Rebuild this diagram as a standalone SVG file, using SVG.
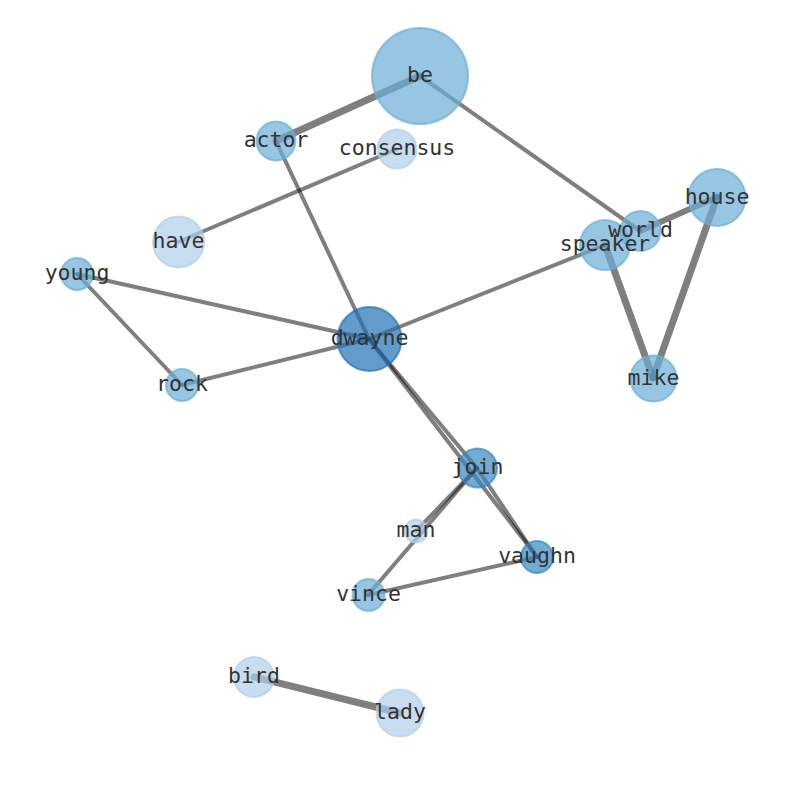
<svg xmlns="http://www.w3.org/2000/svg" width="794" height="790" viewBox="0 0 794 790">
<style>
.e{stroke:#000;stroke-opacity:0.5;stroke-linecap:round;fill:none;stroke-width:4}
.w6{stroke-width:6}
.w7{stroke-width:7}
.n circle{fill-opacity:0.7;stroke-opacity:0.7;stroke-width:2}
.c1 circle{fill:#2171b5;stroke:#2171b5}
.c2 circle{fill:#3787c0;stroke:#3787c0}
.c3 circle{fill:#6baed6;stroke:#6baed6}
.c4 circle{fill:#b0cfe8;stroke:#b0cfe8}
text{font-family:"DejaVu Sans Mono","Liberation Mono",monospace;font-size:21.5px;fill:#333;text-anchor:middle;dominant-baseline:central}
</style>
<rect width="794" height="790" fill="#fff"/>
<g id="edges">
<line class="e w7" x1="420" y1="76" x2="276" y2="141"/>
<line class="e" x1="420" y1="76" x2="640" y2="231"/>
<line class="e" x1="276" y1="141" x2="369" y2="339"/>
<line class="e" x1="397" y1="149" x2="178" y2="242"/>
<line class="e" x1="77" y1="274" x2="369" y2="339"/>
<line class="e" x1="77" y1="274" x2="182" y2="385"/>
<line class="e" x1="182" y1="385" x2="369" y2="339"/>
<line class="e" x1="369" y1="339" x2="605" y2="245"/>
<line class="e" x1="369" y1="339" x2="477" y2="468"/>
<line class="e" x1="369" y1="339" x2="537" y2="557"/>
<line class="e" x1="477" y1="468" x2="537" y2="557"/>
<line class="e" x1="477" y1="468" x2="416" y2="531"/>
<line class="e" x1="477" y1="468" x2="368" y2="595"/>
<line class="e" x1="368" y1="595" x2="537" y2="557"/>
<line class="e w6" x1="640" y1="231" x2="717" y2="197"/>
<line class="e w7" x1="605" y1="245" x2="653" y2="378"/>
<line class="e w7" x1="717" y1="197" x2="653" y2="378"/>
<line class="e w7" x1="254" y1="677" x2="400" y2="713"/>
</g>
<g id="nodes">
<g id="node-be" class="n c3"><circle cx="420" cy="76" r="48"/></g>
<g id="node-actor" class="n c3"><circle cx="276" cy="141" r="19.5"/></g>
<g id="node-consensus" class="n c4"><circle cx="397" cy="149" r="19.5"/></g>
<g id="node-have" class="n c4"><circle cx="178.5" cy="242" r="25.5"/></g>
<g id="node-young" class="n c3"><circle cx="77" cy="274" r="16"/></g>
<g id="node-dwayne" class="n c1"><circle cx="369.5" cy="339" r="32"/></g>
<g id="node-rock" class="n c3"><circle cx="182" cy="385" r="16"/></g>
<g id="node-speaker" class="n c3"><circle cx="605" cy="245" r="25"/></g>
<g id="node-world" class="n c3"><circle cx="640.5" cy="231" r="20"/></g>
<g id="node-house" class="n c3"><circle cx="717" cy="197.5" r="28.5"/></g>
<g id="node-mike" class="n c3"><circle cx="653.5" cy="378.5" r="23"/></g>
<g id="node-join" class="n c2"><circle cx="477.5" cy="468" r="19.5"/></g>
<g id="node-man" class="n c4"><circle cx="416" cy="531" r="11.5"/></g>
<g id="node-vaughn" class="n c2"><circle cx="537" cy="557" r="16"/></g>
<g id="node-vince" class="n c3"><circle cx="368.5" cy="595" r="16"/></g>
<g id="node-bird" class="n c4"><circle cx="254" cy="677" r="20"/></g>
<g id="node-lady" class="n c4"><circle cx="400" cy="713" r="23.5"/></g>
</g>
<g id="labels" transform="translate(0,-1.5)">
<text x="420" y="76">be</text>
<text x="276" y="141">actor</text>
<text x="397" y="149">consensus</text>
<text x="178.5" y="242">have</text>
<text x="77" y="274">young</text>
<text x="369.5" y="339">dwayne</text>
<text x="182" y="385">rock</text>
<text x="605" y="245">speaker</text>
<text x="640.5" y="231">world</text>
<text x="717" y="197.5">house</text>
<text x="653.5" y="378.5">mike</text>
<text x="477.5" y="468">join</text>
<text x="416" y="531">man</text>
<text x="537" y="557">vaughn</text>
<text x="368.5" y="595">vince</text>
<text x="254" y="677">bird</text>
<text x="400" y="713">lady</text>
</g>
</svg>
